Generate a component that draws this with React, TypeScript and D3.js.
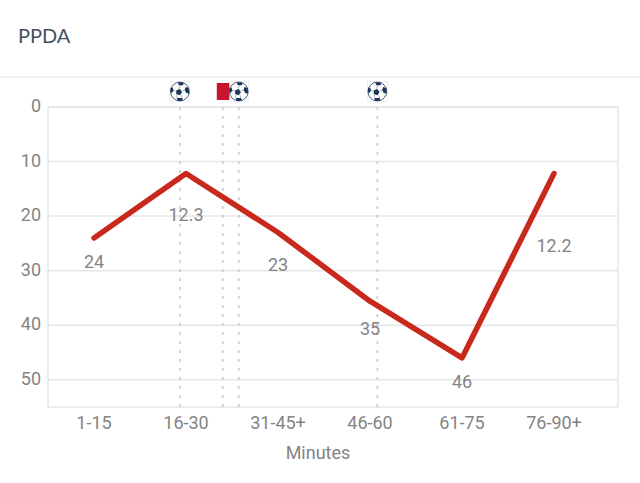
import React from 'react';
import * as d3 from 'd3';

const categories = ['1-15', '16-30', '31-45+', '46-60', '61-75', '76-90+'];
const ppda = [24, 12.2, 23, 35.6, 46, 12.2];
const valueLabels = ['24', '12.3', '23', '35', '46', '12.2'];
const labelOffsets = [24, 41, 33, 28, 24, 72];
const yTicks = [0, 10, 20, 30, 40, 50];
const goalMinutes = [21.5, 31.1, 53.7];
const redCardMinutes = [28.5];

const width = 640;
const height = 483;
const plot = { left: 48, right: 618, top: 107, bottom: 407 };

const textFont = 'Roboto, sans-serif';
const grey = '#848484';
const gridColor = '#e6e6e6';

// ball panels, relative to a 20px box
const centerPanel = d3.range(5).map(i => {
  const a = -Math.PI / 2 + 0.35 + (i * 2 * Math.PI) / 5;
  return [-1 + 3.2 * Math.cos(a), 0.6 + 3.2 * Math.sin(a)];
});
const edgePanels = [
  [[-2, -9.2], [4, -8.8], [3, -6.2], [-1, -6.2]],
  [[5.8, -4.4], [8.8, -3.4], [9.4, 2], [6.4, 1.6], [4.8, -1.6]],
  [[-9.2, -3.4], [-7.2, -4], [-6.4, -1], [-8, 1.4], [-9.4, 0.6]],
  [[-3, 6.4], [2.2, 6.6], [3.2, 9], [-2.2, 9.5]],
];
// seams between the panels
const seams = [
  [[-1, -2.6], [0.6, -6.2]],
  [[2, -0.4], [5, -1.6]],
  [[1, 3.2], [2.4, 6.6]],
  [[-3, 3.2], [-3, 6.4]],
  [[-4, -0.4], [-6.6, -1]],
];

const Ball: React.FC<{ x: number; y: number }> = ({ x, y }) => {
  const line = d3.line();
  return (
    <g transform={`translate(${x},${y})`}>
      <rect x={-10} y={-10} width={20} height={20} fill="#fff" stroke="#e4e4e4" strokeWidth={0.6} />
      <circle r={9.4} fill="#fff" stroke="#1f3a5f" strokeWidth={0.8} />
      {seams.map((s, i) => (
        <path key={i} d={line(s as [number, number][]) || ''} stroke="#5a6f8a" strokeWidth={0.5} fill="none" />
      ))}
      <path d={line(centerPanel as [number, number][]) + 'Z'} fill="#1b3557" />
      {edgePanels.map((p, i) => (
        <path key={i} d={line(p as [number, number][]) + 'Z'} fill="#1b3557" />
      ))}
    </g>
  );
};

const App: React.FC = () => {
  const x = d3.scaleBand().domain(categories).range([48, 600]);
  const minuteX = d3.scaleLinear().domain([0, 90]).range([48, 600]);
  const y = d3.scaleLinear().domain([0, 55]).range([plot.top, plot.bottom]);

  const pointX = (c: string) => (x(c) || 0) + x.bandwidth() / 2;
  const path = d3.line<number>()
    .x((d, i) => pointX(categories[i]))
    .y(d => y(d));

  const eventMinutes = [...goalMinutes, ...redCardMinutes];

  return (
    <svg
      width={width}
      height={height}
      style={{ position: 'fixed', left: 0, top: 0, background: '#fff' }}
    >
      <text x={18} y={43} fontFamily="Lato, sans-serif" fontSize={20} fill="#45505c">PPDA</text>
      <line x1={0} x2={width} y1={77} y2={77} stroke="#efefef" strokeWidth={1.5} />

      {yTicks.map(t => (
        <g key={t}>
          <line x1={plot.left} x2={plot.right} y1={y(t)} y2={y(t)} stroke={gridColor} strokeWidth={1.5} />
          <text x={41} y={y(t) + 5} textAnchor="end" fontFamily={textFont} fontSize={18} fill={grey}>{t}</text>
        </g>
      ))}
      <rect
        x={plot.left}
        y={plot.top}
        width={plot.right - plot.left}
        height={plot.bottom - plot.top}
        fill="none"
        stroke={gridColor}
        strokeWidth={1.5}
      />

      {eventMinutes.map(m => (
        <line
          key={m}
          x1={minuteX(m)}
          x2={minuteX(m)}
          y1={plot.top}
          y2={plot.bottom}
          stroke="#c8c8c8"
          strokeWidth={1.5}
          strokeDasharray="3 6"
        />
      ))}

      <path
        d={path(ppda) || ''}
        fill="none"
        stroke="#c9281c"
        strokeWidth={5.5}
        strokeLinejoin="round"
        strokeLinecap="round"
      />

      {categories.map((c, i) => (
        <text
          key={c}
          x={pointX(c)}
          y={y(ppda[i]) + labelOffsets[i] + 6}
          textAnchor="middle"
          fontFamily={textFont}
          fontSize={18}
          fill={grey}
        >
          {valueLabels[i]}
        </text>
      ))}

      {categories.map(c => (
        <text key={c} x={pointX(c)} y={429} textAnchor="middle" fontFamily={textFont} fontSize={18} fill={grey}>{c}</text>
      ))}
      <text x={318} y={459} textAnchor="middle" fontFamily={textFont} fontSize={18} fill={grey}>Minutes</text>

      {goalMinutes.map(m => (
        <Ball key={m} x={minuteX(m)} y={91.5} />
      ))}
      {redCardMinutes.map(m => (
        <rect key={m} x={minuteX(m) - 6} y={83} width={12.5} height={17} fill="#c8152d" />
      ))}
    </svg>
  );
};

export default App;
